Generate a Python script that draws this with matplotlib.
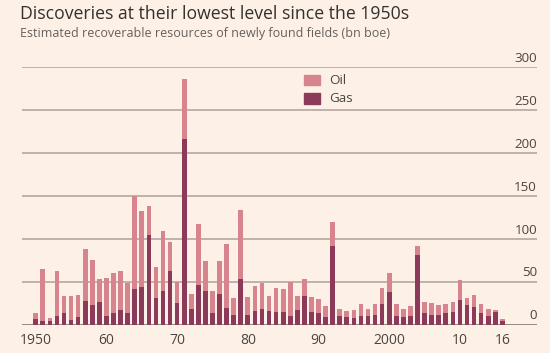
import matplotlib
matplotlib.use("Agg")
import matplotlib.pyplot as plt
import numpy as np

years = list(range(1950, 2017))
total = [14, 65, 8, 63, 34, 34, 35, 89, 76, 54,
         55, 61, 63, 49, 150, 133, 139, 67, 110, 97,
         50, 286, 36, 118, 74, 40, 74, 94, 31, 134,
         33, 45, 49, 34, 43, 42, 50, 34, 54, 33,
         30, 22, 120, 19, 16, 17, 24, 19, 25, 43,
         60, 24, 19, 22, 92, 27, 26, 23, 25, 27,
         52, 32, 35, 24, 19, 18, 7]
gas = [7, 5, 5, 11, 14, 6, 9, 28, 23, 27,
       10, 14, 18, 14, 42, 44, 105, 31, 39, 63,
       26, 217, 19, 47, 39, 14, 36, 20, 12, 54,
       12, 16, 19, 16, 15, 15, 10, 17, 34, 15,
       14, 9, 92, 10, 9, 8, 10, 11, 12, 24,
       38, 10, 9, 10, 81, 14, 12, 12, 14, 15,
       29, 23, 21, 14, 10, 15, 5]
oil = [t - g for t, g in zip(total, gas)]
xtick_pos = [1950, 1960, 1970, 1980, 1990, 2000, 2010, 2016]
xtick_labels = ["1950", "60", "70", "80", "90", "2000", "10", "16"]
yticks = [0, 50, 100, 150, 200, 250, 300]

bg = "#FDF1E7"
oil_c = "#D8848F"
gas_c = "#8C3A5A"
grid_c = "#ADA19A"
text_c = "#4A4542"

plt.rcParams['font.family'] = ['Open Sans', 'DejaVu Sans']

fig = plt.figure(figsize=(5.5, 3.53), dpi=100, facecolor=bg)
W, H = 550, 353
left_px, right_px = 22, 537
top_px, bot_px = 67.3, 325
ax = fig.add_axes([left_px / W, (H - bot_px) / H, (right_px - left_px) / W, (bot_px - top_px) / H])
ax.set_facecolor(bg)

ax.set_xlim(1948.06, 2020.9)
ax.set_ylim(0, 300)

for y in yticks:
    ax.axhline(y, color=("#7A6E69" if y == 0 else grid_c), lw=1.1, zorder=1)
    ax.text(1.0, y + 3, str(y), transform=ax.get_yaxis_transform(), ha="right", va="bottom",
            fontsize=9.6, color=text_c)

ax.bar(years, gas, width=0.66, color=gas_c, zorder=2, label="Gas")
ax.bar(years, oil, width=0.66, bottom=gas, color=oil_c, zorder=2, label="Oil")

for s in ax.spines.values():
    s.set_visible(False)
ax.set_yticks([])
ax.set_xticks(xtick_pos)
ax.set_xticklabels(xtick_labels, fontsize=10, color=text_c)
ax.tick_params(axis="x", length=0, pad=6)

# legend
from matplotlib.patches import Rectangle
for i, (lab, c) in enumerate([("Oil", oil_c), ("Gas", gas_c)]):
    yc = 80 + i * 18.5
    fig.patches.append(Rectangle((304 / W, (H - yc - 5) / H), 16 / W, 10 / H,
                                 transform=fig.transFigure, color=c, figure=fig))
    fig.text(329 / W, (H - yc) / H, lab, ha="left", va="center", fontsize=9.6, color=text_c)

fig.text(20 / W, (H - 14) / H, "Discoveries at their lowest level since the 1950s",
         ha="left", va="center", fontsize=12.7, color="#33302E")
fig.text(20 / W, (H - 34) / H, "Estimated recoverable resources of newly found fields (bn boe)",
         ha="left", va="center", fontsize=9, color="#66605C")

fig.savefig("out.png", dpi=100, facecolor=bg)
